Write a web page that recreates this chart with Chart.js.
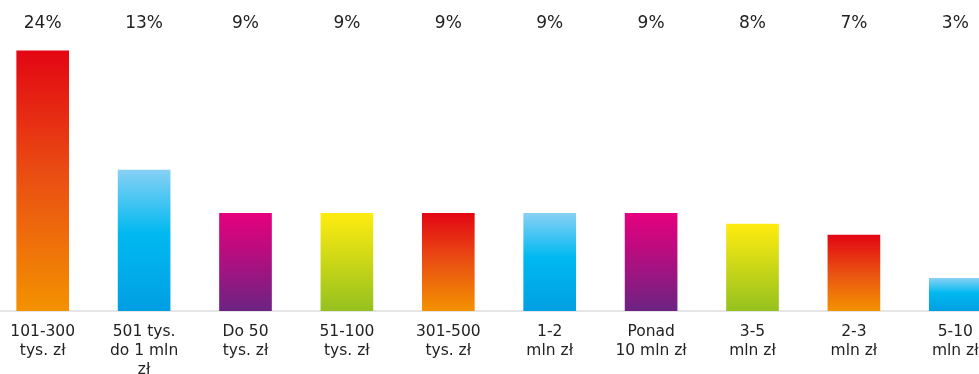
<!DOCTYPE html>
<html>
<head>
<meta charset="utf-8">
<script src="https://cdn.jsdelivr.net/npm/chart.js@4.4.1/dist/chart.umd.min.js"></script>
<style>
  html, body { margin: 0; padding: 0; background: #fff; overflow: hidden; }
  #wrap { position: relative; left: -8px; width: 1014px; height: 383px; }
</style>
</head>
<body>
<div id="wrap"><canvas id="chart"></canvas></div>
<script>
const categories = [
  ["101-300", "tys. zł"],
  ["501 tys.", "do 1 mln", "zł"],
  ["Do 50", "tys. zł"],
  ["51-100", "tys. zł"],
  ["301-500", "tys. zł"],
  ["1-2", "mln zł"],
  ["Ponad", "10 mln zł"],
  ["3-5", "mln zł"],
  ["2-3", "mln zł"],
  ["5-10", "mln zł"]
];
const shares = [24, 13, 9, 9, 9, 9, 9, 8, 7, 3];
const barPalette = ["red", "blue", "magenta", "yellow", "red", "blue", "magenta", "yellow", "red", "blue"];

const gradientStops = {
  red: [[0, "#e30613"], [0.5, "#ea5112"], [1, "#f39200"]],
  blue: [[0, "#87d0f5"], [0.45, "#00b9f0"], [1, "#009fe3"]],
  magenta: [[0, "#e6007e"], [0.4, "#b80d7f"], [1, "#6c2383"]],
  yellow: [[0, "#ffec0f"], [1, "#95c11f"]]
};

// each bar gets its own top-to-bottom gradient
function barFill(context) {
  const chart = context.chart;
  if (!chart.chartArea || context.type !== "data") return "#ccc";
  const y = chart.scales.y;
  const top = y.getPixelForValue(context.raw);
  const bottom = y.getPixelForValue(0);
  const g = chart.ctx.createLinearGradient(0, top, 0, bottom);
  gradientStops[barPalette[context.dataIndex]].forEach(s => g.addColorStop(s[0], s[1]));
  return g;
}

const family = "'DejaVu Sans', sans-serif";

new Chart(document.getElementById("chart"), {
  type: "bar",
  data: {
    labels: categories,
    datasets: [{
      data: shares,
      backgroundColor: barFill,
      barThickness: 52
    }]
  },
  options: {
    responsive: true,
    maintainAspectRatio: false,
    animation: false,
    layout: { padding: { top: 9 } },
    plugins: { legend: { display: false }, tooltip: { enabled: false } },
    scales: {
      x: {
        position: "bottom",
        z: 1,
        grid: { display: false },
        border: { display: true, color: "rgba(225,225,225,0.85)", width: 2 },
        ticks: {
          color: "#222",
          font: { family: family, size: 15.5, lineHeight: 1.25 },
          maxRotation: 0, autoSkip: false, padding: 3
        }
      },
      x2: {
        type: "category",
        position: "top",
        labels: shares.map(v => v + "%"),
        offset: true,
        grid: { display: false },
        border: { display: false },
        ticks: {
          color: "#222",
          font: { family: family, size: 17 },
          maxRotation: 0, autoSkip: false, padding: 4
        }
      },
      y: {
        display: false,
        min: 0,
        max: 24.5
      }
    }
  }
});
</script>
</body>
</html>
